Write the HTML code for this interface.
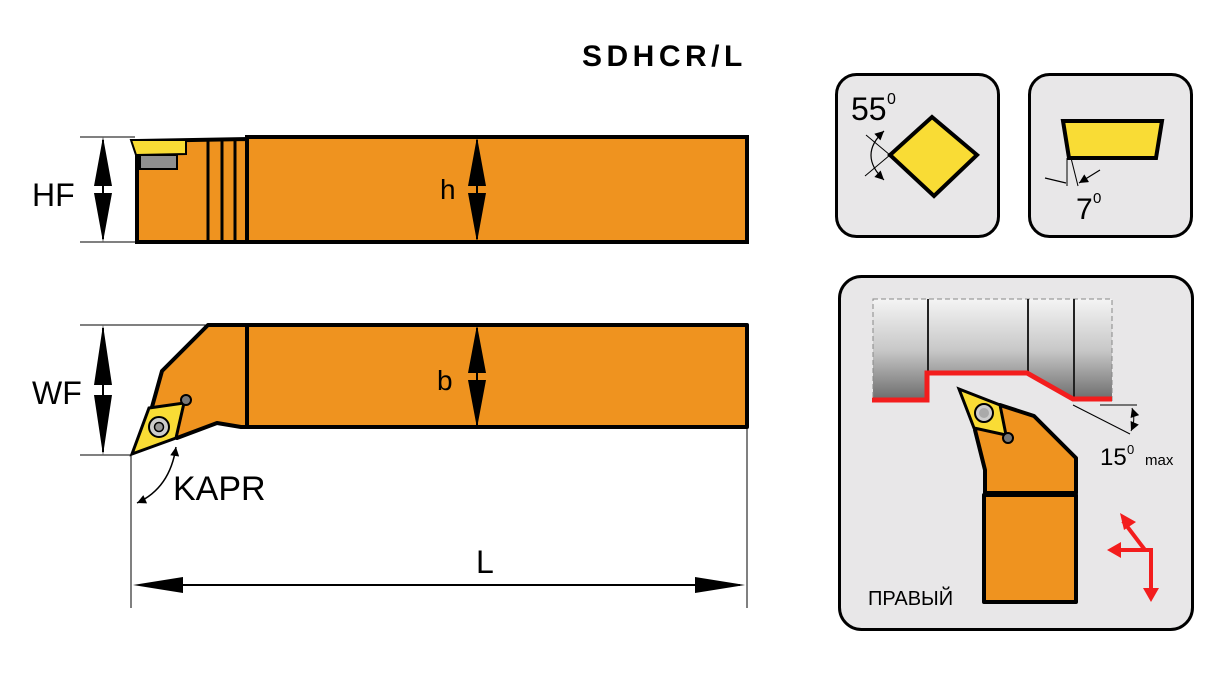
<!DOCTYPE html>
<html><head><meta charset="utf-8"><style>body{margin:0;background:#fff}svg{display:block}</style></head><body>
<svg width="1226" height="678" viewBox="0 0 1226 678" xmlns="http://www.w3.org/2000/svg" font-family="Liberation Sans, sans-serif">
<defs>
<linearGradient id="g" x1="0" y1="0" x2="0" y2="1"><stop offset="0" stop-color="#f4f4f4"/><stop offset="0.5" stop-color="#c8c8c8"/><stop offset="1" stop-color="#6a6a6a"/></linearGradient>
<marker id="a" viewBox="0 0 10 10" refX="10" refY="5" markerWidth="14" markerHeight="9" orient="auto-start-reverse" markerUnits="userSpaceOnUse"><path d="M0,0L10,5L0,10z" fill="#000"/></marker>
</defs>
<text x="582" y="66" font-size="30" font-weight="bold" letter-spacing="4.5">SDHCR/L</text>
<!-- top bar -->
<g stroke="#000" stroke-width="4" fill="#ef931f">
<polygon points="137,141 247,139 247,242 137,242"/>
<rect x="247" y="137" width="500" height="105"/>
</g>
<g stroke="#000" stroke-width="3">
<line x1="208" y1="141" x2="208" y2="242"/><line x1="222" y1="141" x2="222" y2="242"/><line x1="235" y1="141" x2="235" y2="242"/>
</g>
<polygon points="131,140 186,140 186,154 136,155" fill="#f9dc35" stroke="#000" stroke-width="2"/>
<rect x="140" y="155" width="37" height="14" fill="#8f8f8f" stroke="#000" stroke-width="2"/>
<line x1="80" y1="137" x2="135" y2="137" stroke="#000"/><line x1="80" y1="242" x2="135" y2="242" stroke="#000"/>
<line x1="103" y1="140" x2="103" y2="239" stroke="#000" stroke-width="2"/>
<path d="M103,137L94,186H112z M103,242L94,193H112z" fill="#000"/>
<text x="32" y="206" font-size="32">HF</text>
<line x1="477" y1="140" x2="477" y2="239" stroke="#000" stroke-width="2"/>
<path d="M477,137L468,186H486z M477,242L468,193H486z" fill="#000"/>
<text x="440" y="199" font-size="28">h</text>
<!-- bottom bar -->
<g stroke="#000" stroke-width="4" fill="#ef931f" stroke-linejoin="round">
<polygon points="208,325 247,325 247,427 241,427 217,423 177,438 152,407 162,371"/>
<rect x="247" y="325" width="500" height="102"/>
</g>
<polygon points="132,454 149,408 184,403 176,438" fill="#f9dc35" stroke="#000" stroke-width="3"/>
<circle cx="186" cy="400" r="5" fill="#777" stroke="#000" stroke-width="2"/>
<circle cx="159" cy="427" r="10" fill="#ccc" stroke="#000" stroke-width="2"/><circle cx="159" cy="427" r="4.5" fill="#999" stroke="#000" stroke-width="1.5"/>
<line x1="80" y1="325" x2="208" y2="325" stroke="#000"/><line x1="80" y1="455" x2="132" y2="455" stroke="#000"/>
<line x1="103" y1="328" x2="103" y2="452" stroke="#000" stroke-width="2"/>
<path d="M103,325L94,385H112z M103,455L94,395H112z" fill="#000"/>
<text x="32" y="404" font-size="32">WF</text>
<line x1="477" y1="328" x2="477" y2="425" stroke="#000" stroke-width="2"/>
<path d="M477,325L468,373H486z M477,428L468,380H486z" fill="#000"/>
<text x="437" y="390" font-size="28">b</text>
<path d="M137,503 Q170,488 176,447" fill="none" stroke="#000" stroke-width="1.5" marker-start="url(#a)" marker-end="url(#a)"/>
<text x="173" y="500" font-size="34">KAPR</text>
<line x1="131" y1="455" x2="131" y2="608" stroke="#000"/><line x1="747" y1="428" x2="747" y2="608" stroke="#000"/>
<line x1="140" y1="585" x2="740" y2="585" stroke="#000" stroke-width="2"/>
<path d="M133,585l50,-8v16z M745,585l-50,-8v16z" fill="#000"/>
<text x="476" y="573" font-size="32">L</text>
<!-- box 1 -->
<rect x="836.5" y="74.5" width="162" height="162" rx="20" fill="#e8e7e8" stroke="#000" stroke-width="3"/>
<polygon points="890,155 932,117 977,155 934,196" fill="#f9dc35" stroke="#000" stroke-width="4"/>
<text x="851" y="120" font-size="32">55</text><text x="887" y="104" font-size="16">0</text>
<path d="M884,131 Q858,155 884,180" fill="none" stroke="#000" stroke-width="1.2" marker-start="url(#a)" marker-end="url(#a)"/>
<line x1="866" y1="135" x2="890" y2="155" stroke="#000"/><line x1="865" y1="176" x2="890" y2="155" stroke="#000"/>
<!-- box 2 -->
<rect x="1029.5" y="74.5" width="162" height="162" rx="20" fill="#e8e7e8" stroke="#000" stroke-width="3"/>
<polygon points="1063,121 1162,121 1156,158 1069,158" fill="#f9dc35" stroke="#000" stroke-width="4"/>
<line x1="1067" y1="158" x2="1067" y2="186" stroke="#000"/><line x1="1071" y1="158" x2="1078" y2="186" stroke="#000"/>
<path d="M1045,178 L1066,183 M1100,170 L1079,183" stroke="#000" stroke-width="1.2" marker-end="url(#a)"/>
<text x="1076" y="219" font-size="30">7</text><text x="1093" y="203" font-size="15">0</text>
<!-- box 3 -->
<rect x="839.5" y="276.5" width="353" height="353" rx="22" fill="#e8e7e8" stroke="#000" stroke-width="3"/>
<rect x="873" y="299" width="239" height="102" fill="url(#g)" stroke="#888" stroke-dasharray="5,3"/>
<polygon points="927,373 1027,373 1073,399 1112,399 1112,420 873,420 873,400 927,400" fill="#e8e7e8"/>
<g stroke="#222" stroke-width="2"><line x1="928" y1="299" x2="928" y2="373"/><line x1="1028" y1="299" x2="1028" y2="373"/><line x1="1074" y1="299" x2="1074" y2="399"/></g>
<polyline points="872,400 927,400 927,373 1027,373 1073,399 1112,399" fill="none" stroke="#f31d1d" stroke-width="5"/>
<line x1="1073" y1="405" x2="1130" y2="434" stroke="#000"/><line x1="1100" y1="405" x2="1137" y2="405" stroke="#000"/>
<path d="M1132,408 Q1136,420 1131,431" fill="none" stroke="#000" marker-start="url(#a)" marker-end="url(#a)"/>
<text x="1100" y="465" font-size="24">15</text><text x="1127" y="454" font-size="13">0</text><text x="1145" y="465" font-size="15">max</text>
<g stroke="#000" stroke-width="4" fill="#ef931f" stroke-linejoin="round">
<polygon points="975,430 985,470 985,493 1076,493 1076,458 1034,416 1000,405"/>
<rect x="984" y="495" width="92" height="107"/>
</g>
<polygon points="959,389 1000,405 1006,435 974,428" fill="#f9dc35" stroke="#000" stroke-width="3"/>
<circle cx="984" cy="413" r="9" fill="#ccc" stroke="#000" stroke-width="2"/><circle cx="984" cy="413" r="5" fill="#aaa"/>
<circle cx="1008" cy="438" r="5" fill="#777" stroke="#000" stroke-width="2"/>
<text x="868" y="605" font-size="20">ПРАВЫЙ</text>
<g stroke="#f31d1d" stroke-width="4" fill="none"><polyline points="1123,521 1145,550 1120,550"/><polyline points="1145,550 1151,550 1151,592"/></g>
<g fill="#f31d1d"><path d="M1120,513l16,9l-12,8z M1107,550l14,-8v16z M1151,602l-8,-14h16z"/></g>
</svg>
</body></html>
